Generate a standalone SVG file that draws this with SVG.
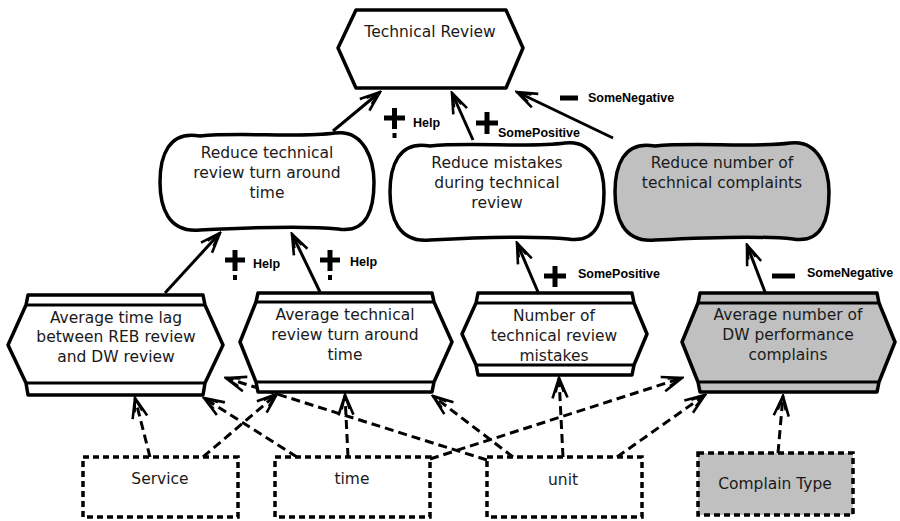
<svg xmlns="http://www.w3.org/2000/svg" width="900" height="521" viewBox="0 0 900 521">
<defs>
<style>
.node{stroke:#000;stroke-width:3.5;stroke-linejoin:round}
.w{fill:#fff}
.g{fill:#c0c0c0}
.bar{stroke:#000;stroke-width:3}
.t{font-family:"DejaVu Sans",Verdana,sans-serif;font-size:15.5px;fill:#1a1a1a;text-anchor:middle}
.lbl{font-family:"Liberation Sans",Arial,sans-serif;font-size:12.5px;font-weight:bold;fill:#000}
.sol{stroke:#000;stroke-width:3;fill:none;marker-end:url(#arr)}
.dsh{stroke:#000;stroke-width:3;fill:none;stroke-dasharray:9 5;marker-end:url(#arr)}
.box{stroke:#000;stroke-width:3.5;stroke-dasharray:6 4}
.sign{stroke:#000;stroke-width:5;fill:none}
</style>
<marker id="arr" markerUnits="userSpaceOnUse" markerWidth="24" markerHeight="20" viewBox="0 0 24 20" refX="22" refY="10" orient="auto">
<path d="M2,2.5 L22,10 L2,17.5 M8,6 L22,10 L8,14" fill="none" stroke="#000" stroke-width="2.6" stroke-linejoin="miter"/>
</marker>
<path id="soft" d="M40,4 C80,0 140,6 175,1 C205,-3 214,30 214,50 C214,75 208,102 178,97 C140,93 80,96 40,98 C8,101 0,75 0,50 C0,25 8,-2 40,4 Z"/>
</defs>
<rect width="900" height="521" fill="#fff"/>

<g id="connectors">
<line class="sol" x1="333" y1="131" x2="380" y2="92"/>
<line class="sol" x1="473" y1="140" x2="452" y2="93"/>
<line class="sol" x1="613" y1="138" x2="517" y2="92"/>
<line class="sol" x1="165" y1="293" x2="220" y2="233"/>
<line class="sol" x1="320" y1="292" x2="292" y2="234"/>
<line class="sol" x1="538" y1="292" x2="517" y2="243"/>
<line class="sol" x1="765" y1="292" x2="747" y2="245"/>
<line class="dsh" x1="150" y1="457" x2="135" y2="398"/>
<line class="dsh" x1="203" y1="457" x2="277" y2="394"/>
<line class="dsh" x1="297" y1="457" x2="204" y2="398"/>
<line class="dsh" x1="348" y1="457" x2="345" y2="395"/>
<line class="dsh" x1="430" y1="459" x2="682" y2="378"/>
<line class="dsh" x1="487" y1="460" x2="226" y2="378"/>
<line class="dsh" x1="513" y1="457" x2="433" y2="396"/>
<line class="dsh" x1="563" y1="457" x2="559" y2="378"/>
<line class="dsh" x1="617" y1="457" x2="705" y2="395"/>
<line class="dsh" x1="778" y1="453" x2="783" y2="396"/>
</g>

<g id="labels">
<g class="sign"><line x1="384" y1="118" x2="405" y2="118"/><line x1="394.5" y1="108" x2="394.5" y2="129"/></g>
<rect x="392.5" y="133" width="4" height="5"/>
<text class="lbl" x="413" y="127">Help</text>
<g class="sign"><line x1="476" y1="123" x2="498" y2="123"/><line x1="487" y1="112" x2="487" y2="134"/></g>
<text class="lbl" x="498" y="137">SomePositive</text>
<line class="sign" x1="560" y1="98" x2="578" y2="98"/>
<text class="lbl" x="588" y="102">SomeNegative</text>
<g class="sign"><line x1="225" y1="260" x2="245" y2="260"/><line x1="235" y1="250" x2="235" y2="271"/></g>
<rect x="233" y="275" width="4" height="5"/>
<text class="lbl" x="253" y="268">Help</text>
<g class="sign"><line x1="320" y1="260" x2="340" y2="260"/><line x1="330" y1="250" x2="330" y2="271"/></g>
<rect x="328" y="275" width="4" height="5"/>
<text class="lbl" x="350" y="266">Help</text>
<g class="sign"><line x1="544" y1="276" x2="566" y2="276"/><line x1="555" y1="266" x2="555" y2="287"/></g>
<text class="lbl" x="578" y="278">SomePositive</text>
<line class="sign" x1="772" y1="276" x2="795" y2="276"/>
<text class="lbl" x="807" y="277">SomeNegative</text>
</g>

<g id="technical-review">
<polygon class="node w" points="356,10 506,10 523,48 506,88 356,88 338,48"/>
<text class="t" x="430" y="37">Technical Review</text>
</g>

<g id="reduce-turnaround">
<use href="#soft" class="node w" transform="translate(160,132)"/>
<text class="t" x="267" y="158">Reduce technical</text>
<text class="t" x="267" y="178">review turn around</text>
<text class="t" x="267" y="198">time</text>
</g>

<g id="reduce-mistakes">
<use href="#soft" class="node w" transform="translate(390,142)"/>
<text class="t" x="497" y="168">Reduce mistakes</text>
<text class="t" x="497" y="188">during technical</text>
<text class="t" x="497" y="208">review</text>
</g>

<g id="reduce-complaints">
<use href="#soft" class="node g" transform="translate(615,142)"/>
<text class="t" x="722" y="168">Reduce number of</text>
<text class="t" x="722" y="188">technical complaints</text>
</g>

<g id="avg-time-lag">
<polygon class="node w" points="28,295 203,295 205,305 223,345 205,383 203,395 28,395 26,383 8,345 26,305"/>
<line class="bar" x1="26" y1="305" x2="205" y2="305"/>
<line class="bar" x1="26" y1="383" x2="205" y2="383"/>
<text class="t" x="116" y="323">Average time lag</text>
<text class="t" x="116" y="342">between REB review</text>
<text class="t" x="116" y="362">and DW review</text>
</g>

<g id="avg-turnaround">
<polygon class="node w" points="258,293 432,293 434,302 452,342 434,382 432,392 258,392 256,382 240,342 256,302"/>
<line class="bar" x1="256" y1="302" x2="434" y2="302"/>
<line class="bar" x1="256" y1="382" x2="434" y2="382"/>
<text class="t" x="345" y="320">Average technical</text>
<text class="t" x="345" y="340">review turn around</text>
<text class="t" x="345" y="360">time</text>
</g>

<g id="num-mistakes">
<polygon class="node w" points="478,293 632,293 634,303 647,334 634,365 632,375 478,375 476,365 462,334 476,303"/>
<line class="bar" x1="476" y1="303" x2="634" y2="303"/>
<line class="bar" x1="476" y1="365" x2="634" y2="365"/>
<text class="t" x="554" y="321">Number of</text>
<text class="t" x="554" y="341">technical review</text>
<text class="t" x="554" y="361">mistakes</text>
</g>

<g id="avg-complains">
<polygon class="node g" points="700,293 877,293 879,303 895,342 879,382 877,392 700,392 698,382 682,342 698,303"/>
<line class="bar" x1="698" y1="303" x2="879" y2="303"/>
<line class="bar" x1="698" y1="382" x2="879" y2="382"/>
<text class="t" x="788" y="320">Average number of</text>
<text class="t" x="788" y="340">DW performance</text>
<text class="t" x="788" y="360">complains</text>
</g>

<g id="service">
<rect class="box w" x="83" y="457" width="155" height="60"/>
<text class="t" x="160" y="484">Service</text>
</g>
<g id="time">
<rect class="box w" x="275" y="457" width="155" height="60"/>
<text class="t" x="352" y="484">time</text>
</g>
<g id="unit">
<rect class="box w" x="487" y="457" width="155" height="60"/>
<text class="t" x="563" y="485">unit</text>
</g>
<g id="complain-type">
<rect class="box g" x="698" y="453" width="155" height="62"/>
<text class="t" x="775" y="489">Complain Type</text>
</g>
</svg>
